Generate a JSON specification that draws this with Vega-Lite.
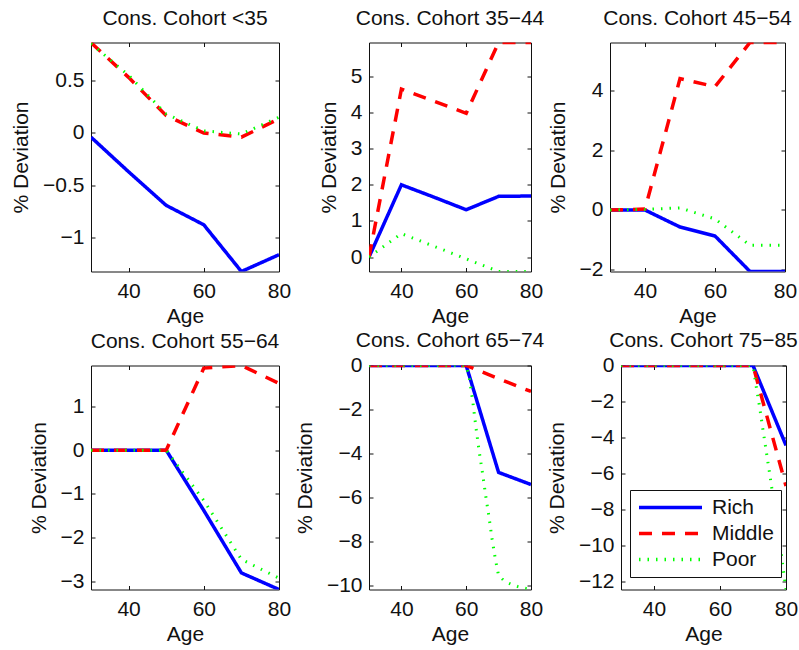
{
"$schema": "https://vega.github.io/schema/vega-lite/v6.json",
"padding": {"left": 10, "top": 6.5, "right": 0, "bottom": 0},
"background": "white",
"datasets": {"d": [
{"c":"<35","s":"Rich","a":30,"v":-0.04},{"c":"<35","s":"Rich","a":40,"v":-0.37},{"c":"<35","s":"Rich","a":50,"v":-0.69},{"c":"<35","s":"Rich","a":60,"v":-0.875},{"c":"<35","s":"Rich","a":70,"v":-1.32},{"c":"<35","s":"Rich","a":80,"v":-1.16},
{"c":"<35","s":"Middle","a":30,"v":0.86},{"c":"<35","s":"Middle","a":40,"v":0.53},{"c":"<35","s":"Middle","a":50,"v":0.165},{"c":"<35","s":"Middle","a":60,"v":0.0},{"c":"<35","s":"Middle","a":70,"v":-0.04},{"c":"<35","s":"Middle","a":80,"v":0.135},
{"c":"<35","s":"Poor","a":30,"v":0.85},{"c":"<35","s":"Poor","a":40,"v":0.55},{"c":"<35","s":"Poor","a":50,"v":0.18},{"c":"<35","s":"Poor","a":60,"v":0.02},{"c":"<35","s":"Poor","a":70,"v":-0.01},{"c":"<35","s":"Poor","a":80,"v":0.15},
{"c":"35−44","s":"Rich","a":30,"v":0},{"c":"35−44","s":"Rich","a":40,"v":2.0},{"c":"35−44","s":"Rich","a":50,"v":1.66},{"c":"35−44","s":"Rich","a":60,"v":1.31},{"c":"35−44","s":"Rich","a":70,"v":1.68},{"c":"35−44","s":"Rich","a":80,"v":1.69},
{"c":"35−44","s":"Middle","a":30,"v":0},{"c":"35−44","s":"Middle","a":40,"v":4.65},{"c":"35−44","s":"Middle","a":50,"v":4.32},{"c":"35−44","s":"Middle","a":60,"v":3.98},{"c":"35−44","s":"Middle","a":70,"v":5.94},{"c":"35−44","s":"Middle","a":80,"v":5.94},
{"c":"35−44","s":"Poor","a":30,"v":0},{"c":"35−44","s":"Poor","a":40,"v":0.65},{"c":"35−44","s":"Poor","a":50,"v":0.3},{"c":"35−44","s":"Poor","a":60,"v":-0.05},{"c":"35−44","s":"Poor","a":70,"v":-0.4},{"c":"35−44","s":"Poor","a":80,"v":-0.4},
{"c":"45−54","s":"Rich","a":30,"v":0},{"c":"45−54","s":"Rich","a":40,"v":0},{"c":"45−54","s":"Rich","a":50,"v":-0.57},{"c":"45−54","s":"Rich","a":60,"v":-0.87},{"c":"45−54","s":"Rich","a":70,"v":-2.06},{"c":"45−54","s":"Rich","a":80,"v":-2.06},
{"c":"45−54","s":"Middle","a":30,"v":0},{"c":"45−54","s":"Middle","a":40,"v":0.03},{"c":"45−54","s":"Middle","a":50,"v":4.4},{"c":"45−54","s":"Middle","a":60,"v":4.13},{"c":"45−54","s":"Middle","a":70,"v":5.61},{"c":"45−54","s":"Middle","a":80,"v":5.61},
{"c":"45−54","s":"Poor","a":30,"v":0},{"c":"45−54","s":"Poor","a":40,"v":0.02},{"c":"45−54","s":"Poor","a":50,"v":0.07},{"c":"45−54","s":"Poor","a":60,"v":-0.3},{"c":"45−54","s":"Poor","a":70,"v":-1.18},{"c":"45−54","s":"Poor","a":80,"v":-1.18},
{"c":"55−64","s":"Rich","a":30,"v":0},{"c":"55−64","s":"Rich","a":40,"v":0},{"c":"55−64","s":"Rich","a":50,"v":0},{"c":"55−64","s":"Rich","a":60,"v":-1.38},{"c":"55−64","s":"Rich","a":70,"v":-2.81},{"c":"55−64","s":"Rich","a":80,"v":-3.19},
{"c":"55−64","s":"Middle","a":30,"v":0},{"c":"55−64","s":"Middle","a":40,"v":0},{"c":"55−64","s":"Middle","a":50,"v":0},{"c":"55−64","s":"Middle","a":60,"v":1.88},{"c":"55−64","s":"Middle","a":70,"v":1.94},{"c":"55−64","s":"Middle","a":80,"v":1.53},
{"c":"55−64","s":"Poor","a":30,"v":0},{"c":"55−64","s":"Poor","a":40,"v":0},{"c":"55−64","s":"Poor","a":50,"v":0},{"c":"55−64","s":"Poor","a":60,"v":-1.15},{"c":"55−64","s":"Poor","a":70,"v":-2.5},{"c":"55−64","s":"Poor","a":80,"v":-2.93},
{"c":"65−74","s":"Rich","a":30,"v":0},{"c":"65−74","s":"Rich","a":40,"v":0},{"c":"65−74","s":"Rich","a":50,"v":0},{"c":"65−74","s":"Rich","a":60,"v":0},{"c":"65−74","s":"Rich","a":70,"v":-4.86},{"c":"65−74","s":"Rich","a":80,"v":-5.41},
{"c":"65−74","s":"Middle","a":30,"v":0},{"c":"65−74","s":"Middle","a":40,"v":0},{"c":"65−74","s":"Middle","a":50,"v":0},{"c":"65−74","s":"Middle","a":60,"v":0},{"c":"65−74","s":"Middle","a":70,"v":-0.6},{"c":"65−74","s":"Middle","a":80,"v":-1.18},
{"c":"65−74","s":"Poor","a":30,"v":0},{"c":"65−74","s":"Poor","a":40,"v":0},{"c":"65−74","s":"Poor","a":50,"v":0},{"c":"65−74","s":"Poor","a":60,"v":0},{"c":"65−74","s":"Poor","a":61,"v":-0.6},{"c":"65−74","s":"Poor","a":62,"v":-1.6},{"c":"65−74","s":"Poor","a":63,"v":-2.8},{"c":"65−74","s":"Poor","a":64,"v":-3.9},{"c":"65−74","s":"Poor","a":65,"v":-4.85},{"c":"65−74","s":"Poor","a":66,"v":-5.9},{"c":"65−74","s":"Poor","a":67,"v":-6.85},{"c":"65−74","s":"Poor","a":68,"v":-7.9},{"c":"65−74","s":"Poor","a":69,"v":-8.8},{"c":"65−74","s":"Poor","a":70,"v":-9.55},{"c":"65−74","s":"Poor","a":72,"v":-9.82},{"c":"65−74","s":"Poor","a":74,"v":-9.95},{"c":"65−74","s":"Poor","a":76,"v":-10.05},{"c":"65−74","s":"Poor","a":78,"v":-10.12},{"c":"65−74","s":"Poor","a":80,"v":-10.18},
{"c":"75−85","s":"Rich","a":30,"v":0},{"c":"75−85","s":"Rich","a":40,"v":0},{"c":"75−85","s":"Rich","a":50,"v":0},{"c":"75−85","s":"Rich","a":60,"v":0},{"c":"75−85","s":"Rich","a":70,"v":0},{"c":"75−85","s":"Rich","a":80,"v":-4.44},
{"c":"75−85","s":"Middle","a":30,"v":0},{"c":"75−85","s":"Middle","a":40,"v":0},{"c":"75−85","s":"Middle","a":50,"v":0},{"c":"75−85","s":"Middle","a":60,"v":0},{"c":"75−85","s":"Middle","a":70,"v":0},{"c":"75−85","s":"Middle","a":80,"v":-6.7},
{"c":"75−85","s":"Poor","a":30,"v":0},{"c":"75−85","s":"Poor","a":40,"v":0},{"c":"75−85","s":"Poor","a":50,"v":0},{"c":"75−85","s":"Poor","a":60,"v":0},{"c":"75−85","s":"Poor","a":70,"v":0},{"c":"75−85","s":"Poor","a":71,"v":-1.2},{"c":"75−85","s":"Poor","a":72,"v":-2.3},{"c":"75−85","s":"Poor","a":73,"v":-3.55},{"c":"75−85","s":"Poor","a":74,"v":-4.75},{"c":"75−85","s":"Poor","a":75,"v":-5.95},{"c":"75−85","s":"Poor","a":76,"v":-7.2},{"c":"75−85","s":"Poor","a":77,"v":-8.4},{"c":"75−85","s":"Poor","a":78,"v":-9.6},{"c":"75−85","s":"Poor","a":79,"v":-11.1},{"c":"75−85","s":"Poor","a":80,"v":-12.45}
]},
"data": {"name": "d"},
"spacing": 2,
"vconcat": [
{"hconcat": [
{"width": 80, "height": 229, "view": {"stroke": null}, "transform": [{"filter": "false"}], "mark": {"type": "point"}, "encoding": {}},
{"title": {"text": "Cons. Cohort <35", "offset": 13.5}, "width": 188, "height": 229,
 "transform": [{"filter": "datum.c === '<35'"}],
 "layer": [
  {"transform": [{"filter": "datum.s === 'Rich'"}], "mark": {"type": "line", "clip": true, "strokeWidth": 3.5},
   "encoding": {"x": {"field": "a", "type": "quantitative", "scale": {"domain": [30, 80], "nice": false, "zero": false}, "axis": {"orient": "bottom", "values": [40, 60, 80], "format": "~f", "title": "Age"}},
    "y": {"field": "v", "type": "quantitative", "scale": {"domain": [-1.32, 0.862], "nice": false, "zero": false}, "axis": {"orient": "left", "values": [-1, -0.5, 0, 0.5], "format": "~f", "title": "% Deviation"}},
    "color": {"field": "s", "type": "nominal", "scale": {"domain": ["Rich", "Middle", "Poor"], "range": ["#0000ff", "#ff0000", "#00ff00"]}, "legend": {"title": null, "orient": "none", "legendX": 619, "legendY": 447.5}},
    "strokeDash": {"field": "s", "type": "nominal", "scale": {"domain": ["Rich", "Middle", "Poor"], "range": [[1, 0], [13, 10], [1.5, 7]]}, "legend": {"title": null, "orient": "none", "legendX": 619, "legendY": 447.5}}}},
  {"transform": [{"filter": "datum.s === 'Middle'"}], "mark": {"type": "line", "clip": true, "strokeWidth": 3.5},
   "encoding": {"x": {"field": "a", "type": "quantitative", "scale": {"domain": [30, 80], "nice": false, "zero": false}, "axis": null},
    "y": {"field": "v", "type": "quantitative", "scale": {"domain": [-1.32, 0.862], "nice": false, "zero": false}, "axis": null},
    "color": {"field": "s", "type": "nominal"}, "strokeDash": {"field": "s", "type": "nominal"}}},
  {"transform": [{"filter": "datum.s === 'Poor'"}], "mark": {"type": "line", "clip": true, "strokeWidth": 3},
   "encoding": {"x": {"field": "a", "type": "quantitative", "scale": {"domain": [30, 80], "nice": false, "zero": false}, "axis": null},
    "y": {"field": "v", "type": "quantitative", "scale": {"domain": [-1.32, 0.862], "nice": false, "zero": false}, "axis": null},
    "color": {"field": "s", "type": "nominal"}, "strokeDash": {"field": "s", "type": "nominal"}}},
  {"mark": {"type": "point", "opacity": 0, "size": 0, "clip": true},
   "encoding": {"x": {"field": "a", "type": "quantitative", "scale": {"domain": [30, 80], "nice": false, "zero": false}, "axis": {"orient": "top", "values": [40, 60, 80], "labels": false, "title": null}},
    "y": {"field": "v", "type": "quantitative", "scale": {"domain": [-1.32, 0.862], "nice": false, "zero": false}, "axis": {"orient": "right", "values": [-1, -0.5, 0, 0.5], "labels": false, "title": null}}}}
 ],
 "resolve": {"axis": {"x": "independent", "y": "independent"}}},
{"width": 90, "height": 229, "view": {"stroke": null}, "transform": [{"filter": "false"}], "mark": {"type": "point"}, "encoding": {}},
{"title": {"text": "Cons. Cohort 35−44", "offset": 13.5}, "width": 162, "height": 229,
 "transform": [{"filter": "datum.c === '35−44'"}],
 "layer": [
  {"transform": [{"filter": "datum.s === 'Rich'"}], "mark": {"type": "line", "clip": true, "strokeWidth": 3.5},
   "encoding": {"x": {"field": "a", "type": "quantitative", "scale": {"domain": [30, 80], "nice": false, "zero": false}, "axis": {"orient": "bottom", "values": [40, 60, 80], "format": "~f", "title": "Age"}},
    "y": {"field": "v", "type": "quantitative", "scale": {"domain": [-0.4, 5.94], "nice": false, "zero": false}, "axis": {"orient": "left", "values": [0, 1, 2, 3, 4, 5], "format": "~f", "title": "% Deviation"}},
    "color": {"field": "s", "type": "nominal", "scale": {"domain": ["Rich", "Middle", "Poor"], "range": ["#0000ff", "#ff0000", "#00ff00"]}, "legend": {"title": null, "orient": "none", "legendX": 619, "legendY": 447.5}},
    "strokeDash": {"field": "s", "type": "nominal", "scale": {"domain": ["Rich", "Middle", "Poor"], "range": [[1, 0], [13, 10], [1.5, 7]]}, "legend": {"title": null, "orient": "none", "legendX": 619, "legendY": 447.5}}}},
  {"transform": [{"filter": "datum.s === 'Middle'"}], "mark": {"type": "line", "clip": true, "strokeWidth": 3.5},
   "encoding": {"x": {"field": "a", "type": "quantitative", "scale": {"domain": [30, 80], "nice": false, "zero": false}, "axis": null},
    "y": {"field": "v", "type": "quantitative", "scale": {"domain": [-0.4, 5.94], "nice": false, "zero": false}, "axis": null},
    "color": {"field": "s", "type": "nominal"}, "strokeDash": {"field": "s", "type": "nominal"}}},
  {"transform": [{"filter": "datum.s === 'Poor'"}], "mark": {"type": "line", "clip": true, "strokeWidth": 3},
   "encoding": {"x": {"field": "a", "type": "quantitative", "scale": {"domain": [30, 80], "nice": false, "zero": false}, "axis": null},
    "y": {"field": "v", "type": "quantitative", "scale": {"domain": [-0.4, 5.94], "nice": false, "zero": false}, "axis": null},
    "color": {"field": "s", "type": "nominal"}, "strokeDash": {"field": "s", "type": "nominal"}}},
  {"mark": {"type": "point", "opacity": 0, "size": 0, "clip": true},
   "encoding": {"x": {"field": "a", "type": "quantitative", "scale": {"domain": [30, 80], "nice": false, "zero": false}, "axis": {"orient": "top", "values": [40, 60, 80], "labels": false, "title": null}},
    "y": {"field": "v", "type": "quantitative", "scale": {"domain": [-0.4, 5.94], "nice": false, "zero": false}, "axis": {"orient": "right", "values": [0, 1, 2, 3, 4, 5], "labels": false, "title": null}}}}
 ],
 "resolve": {"axis": {"x": "independent", "y": "independent"}}},
{"width": 79, "height": 229, "view": {"stroke": null}, "transform": [{"filter": "false"}], "mark": {"type": "point"}, "encoding": {}},
{"title": {"text": "Cons. Cohort 45−54", "offset": 13.5}, "width": 175, "height": 229,
 "transform": [{"filter": "datum.c === '45−54'"}],
 "layer": [
  {"transform": [{"filter": "datum.s === 'Rich'"}], "mark": {"type": "line", "clip": true, "strokeWidth": 3.5},
   "encoding": {"x": {"field": "a", "type": "quantitative", "scale": {"domain": [30, 80], "nice": false, "zero": false}, "axis": {"orient": "bottom", "values": [40, 60, 80], "format": "~f", "title": "Age"}},
    "y": {"field": "v", "type": "quantitative", "scale": {"domain": [-2.06, 5.61], "nice": false, "zero": false}, "axis": {"orient": "left", "values": [-2, 0, 2, 4], "format": "~f", "title": "% Deviation"}},
    "color": {"field": "s", "type": "nominal", "scale": {"domain": ["Rich", "Middle", "Poor"], "range": ["#0000ff", "#ff0000", "#00ff00"]}, "legend": {"title": null, "orient": "none", "legendX": 619, "legendY": 447.5}},
    "strokeDash": {"field": "s", "type": "nominal", "scale": {"domain": ["Rich", "Middle", "Poor"], "range": [[1, 0], [13, 10], [1.5, 7]]}, "legend": {"title": null, "orient": "none", "legendX": 619, "legendY": 447.5}}}},
  {"transform": [{"filter": "datum.s === 'Middle'"}], "mark": {"type": "line", "clip": true, "strokeWidth": 3.5},
   "encoding": {"x": {"field": "a", "type": "quantitative", "scale": {"domain": [30, 80], "nice": false, "zero": false}, "axis": null},
    "y": {"field": "v", "type": "quantitative", "scale": {"domain": [-2.06, 5.61], "nice": false, "zero": false}, "axis": null},
    "color": {"field": "s", "type": "nominal"}, "strokeDash": {"field": "s", "type": "nominal"}}},
  {"transform": [{"filter": "datum.s === 'Poor'"}], "mark": {"type": "line", "clip": true, "strokeWidth": 3},
   "encoding": {"x": {"field": "a", "type": "quantitative", "scale": {"domain": [30, 80], "nice": false, "zero": false}, "axis": null},
    "y": {"field": "v", "type": "quantitative", "scale": {"domain": [-2.06, 5.61], "nice": false, "zero": false}, "axis": null},
    "color": {"field": "s", "type": "nominal"}, "strokeDash": {"field": "s", "type": "nominal"}}},
  {"mark": {"type": "point", "opacity": 0, "size": 0, "clip": true},
   "encoding": {"x": {"field": "a", "type": "quantitative", "scale": {"domain": [30, 80], "nice": false, "zero": false}, "axis": {"orient": "top", "values": [40, 60, 80], "labels": false, "title": null}},
    "y": {"field": "v", "type": "quantitative", "scale": {"domain": [-2.06, 5.61], "nice": false, "zero": false}, "axis": {"orient": "right", "values": [-2, 0, 2, 4], "labels": false, "title": null}}}}
 ],
 "resolve": {"axis": {"x": "independent", "y": "independent"}}}
], "spacing": 0, "bounds": "flush"},
{"hconcat": [
{"width": 80, "height": 224, "view": {"stroke": null}, "transform": [{"filter": "false"}], "mark": {"type": "point"}, "encoding": {}},
{"title": {"text": "Cons. Cohort 55−64", "offset": 13.5}, "width": 188, "height": 224,
 "transform": [{"filter": "datum.c === '55−64'"}],
 "layer": [
  {"transform": [{"filter": "datum.s === 'Rich'"}], "mark": {"type": "line", "clip": true, "strokeWidth": 3.5},
   "encoding": {"x": {"field": "a", "type": "quantitative", "scale": {"domain": [30, 80], "nice": false, "zero": false}, "axis": {"orient": "bottom", "values": [40, 60, 80], "format": "~f", "title": "Age"}},
    "y": {"field": "v", "type": "quantitative", "scale": {"domain": [-3.19, 1.94], "nice": false, "zero": false}, "axis": {"orient": "left", "values": [-3, -2, -1, 0, 1], "format": "~f", "title": "% Deviation"}},
    "color": {"field": "s", "type": "nominal", "scale": {"domain": ["Rich", "Middle", "Poor"], "range": ["#0000ff", "#ff0000", "#00ff00"]}, "legend": {"title": null, "orient": "none", "legendX": 619, "legendY": 447.5}},
    "strokeDash": {"field": "s", "type": "nominal", "scale": {"domain": ["Rich", "Middle", "Poor"], "range": [[1, 0], [13, 10], [1.5, 7]]}, "legend": {"title": null, "orient": "none", "legendX": 619, "legendY": 447.5}}}},
  {"transform": [{"filter": "datum.s === 'Middle'"}], "mark": {"type": "line", "clip": true, "strokeWidth": 3.5},
   "encoding": {"x": {"field": "a", "type": "quantitative", "scale": {"domain": [30, 80], "nice": false, "zero": false}, "axis": null},
    "y": {"field": "v", "type": "quantitative", "scale": {"domain": [-3.19, 1.94], "nice": false, "zero": false}, "axis": null},
    "color": {"field": "s", "type": "nominal"}, "strokeDash": {"field": "s", "type": "nominal"}}},
  {"transform": [{"filter": "datum.s === 'Poor'"}], "mark": {"type": "line", "clip": true, "strokeWidth": 3},
   "encoding": {"x": {"field": "a", "type": "quantitative", "scale": {"domain": [30, 80], "nice": false, "zero": false}, "axis": null},
    "y": {"field": "v", "type": "quantitative", "scale": {"domain": [-3.19, 1.94], "nice": false, "zero": false}, "axis": null},
    "color": {"field": "s", "type": "nominal"}, "strokeDash": {"field": "s", "type": "nominal"}}},
  {"mark": {"type": "point", "opacity": 0, "size": 0, "clip": true},
   "encoding": {"x": {"field": "a", "type": "quantitative", "scale": {"domain": [30, 80], "nice": false, "zero": false}, "axis": {"orient": "top", "values": [40, 60, 80], "labels": false, "title": null}},
    "y": {"field": "v", "type": "quantitative", "scale": {"domain": [-3.19, 1.94], "nice": false, "zero": false}, "axis": {"orient": "right", "values": [-3, -2, -1, 0, 1], "labels": false, "title": null}}}}
 ],
 "resolve": {"axis": {"x": "independent", "y": "independent"}}},
{"width": 90, "height": 224, "view": {"stroke": null}, "transform": [{"filter": "false"}], "mark": {"type": "point"}, "encoding": {}},
{"title": {"text": "Cons. Cohort 65−74", "offset": 3.5}, "width": 162, "height": 224,
 "transform": [{"filter": "datum.c === '65−74'"}],
 "layer": [
  {"transform": [{"filter": "datum.s === 'Rich'"}], "mark": {"type": "line", "clip": true, "strokeWidth": 3.5},
   "encoding": {"x": {"field": "a", "type": "quantitative", "scale": {"domain": [30, 80], "nice": false, "zero": false}, "axis": {"orient": "bottom", "values": [40, 60, 80], "format": "~f", "title": "Age"}},
    "y": {"field": "v", "type": "quantitative", "scale": {"domain": [-10.18, 0], "nice": false, "zero": false}, "axis": {"orient": "left", "values": [-10, -8, -6, -4, -2, 0], "format": "~f", "title": "% Deviation"}},
    "color": {"field": "s", "type": "nominal", "scale": {"domain": ["Rich", "Middle", "Poor"], "range": ["#0000ff", "#ff0000", "#00ff00"]}, "legend": {"title": null, "orient": "none", "legendX": 619, "legendY": 447.5}},
    "strokeDash": {"field": "s", "type": "nominal", "scale": {"domain": ["Rich", "Middle", "Poor"], "range": [[1, 0], [13, 10], [1.5, 7]]}, "legend": {"title": null, "orient": "none", "legendX": 619, "legendY": 447.5}}}},
  {"transform": [{"filter": "datum.s === 'Middle'"}], "mark": {"type": "line", "clip": true, "strokeWidth": 3.5},
   "encoding": {"x": {"field": "a", "type": "quantitative", "scale": {"domain": [30, 80], "nice": false, "zero": false}, "axis": null},
    "y": {"field": "v", "type": "quantitative", "scale": {"domain": [-10.18, 0], "nice": false, "zero": false}, "axis": null},
    "color": {"field": "s", "type": "nominal"}, "strokeDash": {"field": "s", "type": "nominal"}}},
  {"transform": [{"filter": "datum.s === 'Poor'"}], "mark": {"type": "line", "clip": true, "strokeWidth": 3},
   "encoding": {"x": {"field": "a", "type": "quantitative", "scale": {"domain": [30, 80], "nice": false, "zero": false}, "axis": null},
    "y": {"field": "v", "type": "quantitative", "scale": {"domain": [-10.18, 0], "nice": false, "zero": false}, "axis": null},
    "color": {"field": "s", "type": "nominal"}, "strokeDash": {"field": "s", "type": "nominal"}}},
  {"mark": {"type": "point", "opacity": 0, "size": 0, "clip": true},
   "encoding": {"x": {"field": "a", "type": "quantitative", "scale": {"domain": [30, 80], "nice": false, "zero": false}, "axis": {"orient": "top", "values": [40, 60, 80], "labels": false, "title": null}},
    "y": {"field": "v", "type": "quantitative", "scale": {"domain": [-10.18, 0], "nice": false, "zero": false}, "axis": {"orient": "right", "values": [-10, -8, -6, -4, -2, 0], "labels": false, "title": null}}}}
 ],
 "resolve": {"axis": {"x": "independent", "y": "independent"}}},
{"width": 90, "height": 224, "view": {"stroke": null}, "transform": [{"filter": "false"}], "mark": {"type": "point"}, "encoding": {}},
{"title": {"text": "Cons. Cohort 75−85", "offset": 3.5}, "width": 165, "height": 224,
 "transform": [{"filter": "datum.c === '75−85'"}],
 "layer": [
  {"transform": [{"filter": "datum.s === 'Rich'"}], "mark": {"type": "line", "clip": true, "strokeWidth": 3.5},
   "encoding": {"x": {"field": "a", "type": "quantitative", "scale": {"domain": [30, 80], "nice": false, "zero": false}, "axis": {"orient": "bottom", "values": [40, 60, 80], "format": "~f", "title": "Age"}},
    "y": {"field": "v", "type": "quantitative", "scale": {"domain": [-12.45, 0], "nice": false, "zero": false}, "axis": {"orient": "left", "values": [-12, -10, -8, -6, -4, -2, 0], "format": "~f", "title": "% Deviation"}},
    "color": {"field": "s", "type": "nominal", "scale": {"domain": ["Rich", "Middle", "Poor"], "range": ["#0000ff", "#ff0000", "#00ff00"]}, "legend": {"title": null, "orient": "none", "legendX": 619, "legendY": 447.5}},
    "strokeDash": {"field": "s", "type": "nominal", "scale": {"domain": ["Rich", "Middle", "Poor"], "range": [[1, 0], [13, 10], [1.5, 7]]}, "legend": {"title": null, "orient": "none", "legendX": 619, "legendY": 447.5}}}},
  {"transform": [{"filter": "datum.s === 'Middle'"}], "mark": {"type": "line", "clip": true, "strokeWidth": 3.5},
   "encoding": {"x": {"field": "a", "type": "quantitative", "scale": {"domain": [30, 80], "nice": false, "zero": false}, "axis": null},
    "y": {"field": "v", "type": "quantitative", "scale": {"domain": [-12.45, 0], "nice": false, "zero": false}, "axis": null},
    "color": {"field": "s", "type": "nominal"}, "strokeDash": {"field": "s", "type": "nominal"}}},
  {"transform": [{"filter": "datum.s === 'Poor'"}], "mark": {"type": "line", "clip": true, "strokeWidth": 3},
   "encoding": {"x": {"field": "a", "type": "quantitative", "scale": {"domain": [30, 80], "nice": false, "zero": false}, "axis": null},
    "y": {"field": "v", "type": "quantitative", "scale": {"domain": [-12.45, 0], "nice": false, "zero": false}, "axis": null},
    "color": {"field": "s", "type": "nominal"}, "strokeDash": {"field": "s", "type": "nominal"}}},
  {"mark": {"type": "point", "opacity": 0, "size": 0, "clip": true},
   "encoding": {"x": {"field": "a", "type": "quantitative", "scale": {"domain": [30, 80], "nice": false, "zero": false}, "axis": {"orient": "top", "values": [40, 60, 80], "labels": false, "title": null}},
    "y": {"field": "v", "type": "quantitative", "scale": {"domain": [-12.45, 0], "nice": false, "zero": false}, "axis": {"orient": "right", "values": [-12, -10, -8, -6, -4, -2, 0], "labels": false, "title": null}}}}
 ],
 "resolve": {"axis": {"x": "independent", "y": "independent"}}}
], "spacing": 0, "bounds": "flush"}
],
"config": {
 "font": "Liberation Sans",
 "view": {"stroke": "#111", "strokeWidth": 1},
 "axis": {"domain": false, "grid": false, "ticks": true, "tickSize": -4, "tickColor": "#111", "tickWidth": 1,
  "labelFont": "Liberation Sans", "labelFontSize": 21, "labelColor": "#111", "labelFlush": false, "labelOverlap": false, "labelBound": false,
  "titleFont": "Liberation Sans", "titleFontSize": 21, "titleFontWeight": "normal", "titleColor": "#111"},
 "axisX": {"labelPadding": 13, "titlePadding": 4},
 "axisY": {"labelPadding": 11, "titlePadding": 11},
 "title": {"font": "Liberation Sans", "fontSize": 21, "fontWeight": "normal", "color": "#111", "baseline": "alphabetic", "frame": "group"},
 "legend": {"symbolType": "stroke", "symbolSize": 3969, "symbolStrokeWidth": 3.5, "clipHeight": 21, "labelFont": "Liberation Sans", "labelFontSize": 21, "labelColor": "#111", "strokeColor": "#111", "fillColor": "#fff", "padding": 7, "rowPadding": 4, "labelOffset": 8, "labelLimit": 0}
}
}
